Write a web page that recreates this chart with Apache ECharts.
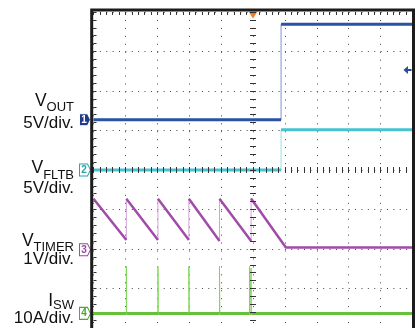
<!DOCTYPE html>
<html>
<head>
<meta charset="utf-8">
<script src="https://cdn.jsdelivr.net/npm/echarts@6/dist/echarts.min.js"></script>
<style>
  html, body { margin: 0; padding: 0; background: #fff; }
  #chart { width: 415px; height: 328px; }
</style>
</head>
<body>
<div id="chart"></div>
<script>
// time in screen divisions (10 div across, trigger at 0)
const voutTime = [-5, 0.88, 0.88, 5];
const voutVolts = [0, 0, 12.1, 12.1];
const fltbTime = [-5, 0.88, 0.88, 5];
const fltbVolts = [0, 0, 5.1, 5.1];
const timerTime = [-5, -3.97, -3.97, -2.98, -2.98, -2.01, -2.01, -1.05, -1.05, -0.06, -0.06, 1.03, 5];
const timerVolts = [1.29, 0.25, 1.29, 0.25, 1.29, 0.25, 1.29, 0.22, 1.29, 0.22, 1.3, 0.06, 0.06];
const iswTime = [-5, -3.97, -3.97, -3.96, -2.98, -2.98, -2.97, -2.01, -2.01, -2.0,
  -1.05, -1.05, -1.04, -0.11, -0.11, -0.1, -0.06, -0.06, -0.05, 5];
const iswAmps = [0, 0, 11.9, 0, 0, 11.9, 0, 0, 11.9, 0,
  0, 11.9, 0, 0, 11.9, 0, 0, 11.5, 0, 0];
const voutTrigLevel = 6.3; // V

const FONT = '"Liberation Sans", Arial, sans-serif';

// channel settings: scale per div and ground marker position (div from centre)
const channels = [
  { num: '1', time: voutTime, values: voutVolts, perDiv: 5, offset: 1.27,
    color: '#2b52a3', edge: '#7396d6', width: 3, markFill: '#1f3a8a', markText: '#fff' },
  { num: '2', time: fltbTime, values: fltbVolts, perDiv: 5, offset: 0,
    color: '#45c3d0', edge: '#9ae0e8', width: 3, markFill: '#fff', markText: '#26a3ae' },
  { num: '3', time: timerTime, values: timerVolts, perDiv: 1, offset: -2.02,
    color: '#a04ca8', edge: '#d3a3d8', width: 2.5, markFill: '#fff', markText: '#9b45a5' },
  { num: '4', time: iswTime, values: iswAmps, perDiv: 10, offset: -3.63,
    color: '#66c13a', edge: '#82d65a', width: 3, markFill: '#fff', markText: '#4aa92e' }
];

const toDiv = (ch) => ch.time.map((t, i) => [t, ch.offset + ch.values[i] / ch.perDiv]);

// fast edges are faint on the scope: drop steep segments from the thick trace
const slowParts = (pts) => {
  const out = [pts[0]];
  for (let i = 1; i < pts.length; i++) {
    const dt = pts[i][0] - pts[i - 1][0];
    const dy = pts[i][1] - pts[i - 1][1];
    if (dt === 0 || Math.abs(dy / dt) > 10) out.push([pts[i][0], null]);
    out.push(pts[i]);
  }
  return out;
};

const markerPath = 'path://M0,0 L8,0 L11,6 L8,12 L0,12 Z';

const series = [];
channels.forEach((ch) => {
  const pts = toDiv(ch);
  series.push({
    type: 'line', data: pts, symbol: 'none', silent: true,
    lineStyle: { color: ch.edge, width: 1 }
  });
  series.push({
    type: 'line', data: slowParts(pts), symbol: 'none', silent: true,
    lineStyle: { color: ch.color, width: ch.width },
    markPoint: {
      silent: true,
      data: [{
        coord: [-5, ch.offset],
        symbol: markerPath,
        symbolSize: [11, 12],
        symbolOffset: [-8.5, 0],
        itemStyle: { color: ch.markFill, borderColor: ch.markText, borderWidth: 1 },
        label: {
          show: true, position: 'inside', offset: [-1, 0], formatter: ch.num,
          color: ch.markText, fontSize: 10, fontWeight: 'bold', fontFamily: FONT
        }
      }]
    }
  });
});

// trigger position and trigger level markers
series.push({
  type: 'line', data: [], symbol: 'none', silent: true,
  markPoint: {
    silent: true,
    data: [
      { coord: [0, 4], symbol: 'triangle', symbolRotate: 180, symbolSize: [9, 7],
        symbolOffset: [0, 3], itemStyle: { color: '#f47a20' }, label: { show: false } },
      { coord: [5, channels[0].offset + voutTrigLevel / channels[0].perDiv],
        symbol: 'path://M0,4 L5,0 L5,8 Z M5,3 L9,3 L9,5 L5,5 Z', symbolSize: [8, 8],
        symbolOffset: [-5, 0], itemStyle: { color: '#2a4aa0' }, label: { show: false } }
    ]
  }
});

const tickStyle = { color: '#333', width: 1 };
const dotColor = '#444';

// [0],[1]: ticks either side of the centre lines, drawn over the traces
// [2]: border ticks plus the dotted graticule
const xAxis = [
  { type: 'value', min: -5, max: 5, interval: 1, position: 'bottom', z: 5,
    axisLine: { show: false, onZero: true, onZeroAxisIndex: 0 },
    axisTick: { show: true, length: 3, lineStyle: tickStyle },
    minorTick: { show: true, splitNumber: 5, length: 3, lineStyle: tickStyle },
    axisLabel: { show: false }, splitLine: { show: false } },
  { type: 'value', min: -5, max: 5, interval: 1, position: 'top', z: 5,
    axisLine: { show: false, onZero: true, onZeroAxisIndex: 0 },
    axisTick: { show: true, length: 3, lineStyle: tickStyle },
    minorTick: { show: true, splitNumber: 5, length: 3, lineStyle: tickStyle },
    axisLabel: { show: false }, splitLine: { show: false } },
  { type: 'value', min: -5, max: 5, interval: 1, position: 'top',
    axisLine: { show: false, onZero: false },
    axisTick: { show: true, inside: true, length: 3, lineStyle: tickStyle },
    minorTick: { show: true, splitNumber: 5, length: 3, lineStyle: tickStyle },
    axisLabel: { show: false },
    splitLine: { show: true, lineStyle: { color: dotColor, width: 1, type: [1, 6.95] } } }
];

const yAxis = [
  { type: 'value', min: -4, max: 4, interval: 1, position: 'left', z: 5,
    axisLine: { show: false, onZero: true, onZeroAxisIndex: 0 },
    axisTick: { show: true, length: 3, lineStyle: tickStyle },
    minorTick: { show: true, splitNumber: 5, length: 3, lineStyle: tickStyle },
    axisLabel: { show: false }, splitLine: { show: false } },
  { type: 'value', min: -4, max: 4, interval: 1, position: 'right', z: 5,
    axisLine: { show: false, onZero: true, onZeroAxisIndex: 0 },
    axisTick: { show: true, length: 3, lineStyle: tickStyle },
    minorTick: { show: true, splitNumber: 5, length: 3, lineStyle: tickStyle },
    axisLabel: { show: false }, splitLine: { show: false } },
  { type: 'value', min: -4, max: 4, interval: 1, position: 'left',
    axisLine: { show: false, onZero: false },
    axisTick: { show: true, inside: true, length: 3, lineStyle: tickStyle },
    minorTick: { show: true, splitNumber: 5, length: 3, lineStyle: tickStyle },
    axisLabel: { show: false },
    splitLine: { show: true, lineStyle: { color: dotColor, width: 1, type: [1, 5.38] } } }
];

// channel labels at the left
const labels = [
  { main: 'V', sub: 'OUT', scale: '5V/div.', yMain: 101, ySub: 107.5, yScale: 123.5 },
  { main: 'V', sub: 'FLTB', scale: '5V/div.', yMain: 168.5, ySub: 175, yScale: 188.5 },
  { main: 'V', sub: 'TIMER', scale: '1V/div.', yMain: 241, ySub: 247, yScale: 259 },
  { main: 'I', sub: 'SW', scale: '10A/div.', yMain: 301, ySub: 305.5, yScale: 318.5 }
];

const measure = (() => {
  const ctx = document.createElement('canvas').getContext('2d');
  return (text, size) => { ctx.font = size + 'px ' + FONT; return ctx.measureText(text).width; };
})();

const textEl = (text, x, y, size) => ({
  type: 'text', x: x, y: y, silent: true,
  style: {
    text: text, fill: '#111', font: size + 'px ' + FONT,
    align: 'right', textAlign: 'right', verticalAlign: 'middle', textVerticalAlign: 'middle'
  }
});

const labelRight = 74;
const graphic = [];
labels.forEach((l) => {
  const subW = measure(l.sub, 13);
  graphic.push(textEl(l.main, labelRight - subW, l.yMain, 17.5));
  graphic.push(textEl(l.sub, labelRight, l.ySub, 13));
  graphic.push(textEl(l.scale, labelRight, l.yScale, 17));
});
graphic.push({
  type: 'rect', silent: true, z: 100,
  shape: { x: 91.7, y: 10, width: 321.8, height: 330 },
  style: { fill: null, stroke: '#1c1c1c', lineWidth: 3 }
});

const chart = echarts.init(document.getElementById('chart'));
chart.setOption({
  animation: false,
  backgroundColor: '#fff',
  grid: { left: 93.5, top: 12, width: 319, height: 318, show: false },
  xAxis: xAxis,
  yAxis: yAxis,
  series: series,
  graphic: graphic
});
</script>
</body>
</html>
